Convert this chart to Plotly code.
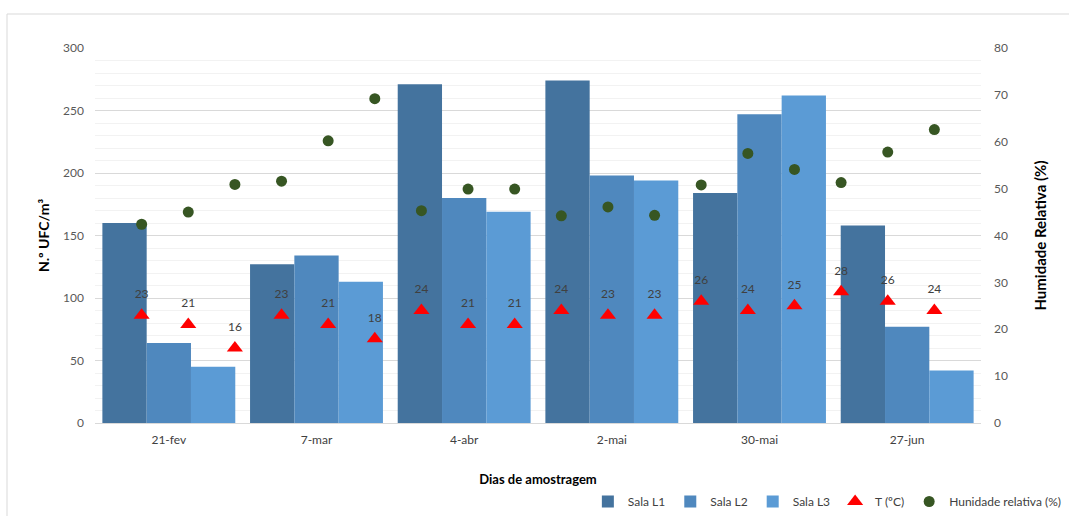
import numpy as np
import plotly.graph_objects as go

# Sampling dates
dates = ["21-fev", "7-mar", "4-abr", "2-mai", "30-mai", "27-jun"]

# Colony counts (N.º UFC/m³) per room
sala_l1 = [160, 127, 271, 274, 184, 158]
sala_l2 = [64, 134, 180, 198, 247, 77]
sala_l3 = [45, 113, 169, 194, 262, 42]

# Temperature (ºC) per room
temp_l1 = [23, 23, 24, 24, 26, 28]
temp_l2 = [21, 21, 21, 23, 24, 26]
temp_l3 = [16, 18, 21, 23, 25, 24]

# Relative humidity (%) per room
hum_l1 = [42.4, 51.6, 45.3, 44.2, 50.8, 51.3]
hum_l2 = [45.0, 60.2, 49.9, 46.1, 57.5, 57.8]
hum_l3 = [50.9, 69.2, 49.9, 44.3, 54.1, 62.6]

bar_colors = ["#44739E", "#4F88BE", "#5B9BD5"]
FONT = "Lato, 'Open Sans', sans-serif"

idx = np.arange(len(dates))

fig = go.Figure()

for name, vals, col in zip(["Sala L1", "Sala L2", "Sala L3"],
                           [sala_l1, sala_l2, sala_l3], bar_colors):
    fig.add_trace(go.Bar(x=idx, y=vals, name=name, marker_color=col,
                         marker_line_width=0, xaxis="x", yaxis="y"))

# Point series: one point per room per date, in date order (L1, L2, L3),
# laid out on their own evenly spaced secondary x axis
ty = np.column_stack([temp_l1, temp_l2, temp_l3]).ravel()
hy = np.column_stack([hum_l1, hum_l2, hum_l3]).ravel()
px = np.arange(len(ty))

fig.add_trace(go.Scatter(
    x=px, y=ty, xaxis="x2", yaxis="y2", mode="markers", name="T (ºC)",
    marker=dict(symbol="triangle-up", size=14, color="#FF0000"),
))
# Temperature value labels (placed above an invisible, larger marker)
fig.add_trace(go.Scatter(
    x=px, y=ty, xaxis="x2", yaxis="y2", mode="markers+text",
    showlegend=False, hoverinfo="skip",
    text=[str(v) for v in ty], textposition="top center",
    textfont=dict(size=12, color="#404040", family=FONT),
    marker=dict(symbol="circle", size=21, opacity=0),
))
fig.add_trace(go.Scatter(
    x=px, y=hy, xaxis="x2", yaxis="y2", mode="markers",
    name="Hunidade relativa (%)",
    marker=dict(symbol="circle", size=11, color="#375623"),
))

fig.update_layout(
    width=1069, height=516,
    margin=dict(l=95, r=88, t=48, b=93),
    paper_bgcolor="white", plot_bgcolor="white",
    font=dict(family=FONT, size=12, color="#595959"),
    barmode="group", bargap=0.1, bargroupgap=0,
    xaxis=dict(
        tickmode="array", tickvals=idx, ticktext=dates,
        range=[-0.5, len(dates) - 0.5], automargin=False,
        showgrid=False, showline=True, linecolor="#D9D9D9", linewidth=1,
        ticks="", ticklabelstandoff=6, tickfont=dict(size=12, color="#404040"),
        title=dict(text="<b>Dias de amostragem</b>", standoff=56,
                   font=dict(size=13, color="#000000")),
        zeroline=False,
    ),
    xaxis2=dict(
        overlaying="x", range=[-1, len(px)], visible=False,
    ),
    yaxis=dict(
        range=[0, 300], dtick=50, showgrid=True, gridcolor="#D9D9D9",
        minor=dict(dtick=10, showgrid=True, gridcolor="#F2F2F2"),
        zeroline=False, ticks="", ticklabelstandoff=10, automargin=False,
        tickfont=dict(size=12, color="#595959"),
        title=dict(text="<b>N.º UFC/m³</b>", standoff=10,
                   font=dict(size=14, color="#000000")),
    ),
    yaxis2=dict(
        range=[0, 80], dtick=10, overlaying="y", side="right",
        showgrid=False, zeroline=False, ticks="", ticklabelstandoff=12,
        automargin=False,
        tickfont=dict(size=12, color="#595959"),
        title=dict(text="<b>Humidade Relativa (%)</b>", standoff=28,
                   font=dict(size=15, color="#000000")),
    ),
    legend=dict(
        orientation="h", xref="container", yref="container",
        x=0.998, xanchor="right", y=0.0, yanchor="bottom",
        font=dict(size=12, color="#404040"), itemwidth=30,
        traceorder="normal", tracegroupgap=0,
    ),
    shapes=[dict(type="rect", xref="paper", yref="paper",
                 x0=(7 - 95) / 886, x1=(1080 - 95) / 886,
                 y0=(423 - 530) / 375, y1=(423 - 14) / 375,
                 line=dict(color="#D9D9D9", width=1), layer="below")],
)

fig.write_html("out.html")
